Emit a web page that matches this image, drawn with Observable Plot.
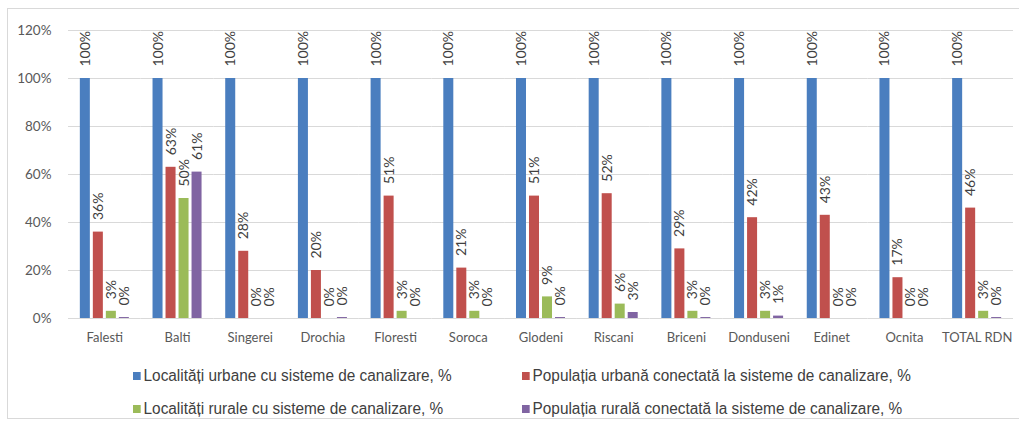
<!DOCTYPE html>
<html>
<head>
<meta charset="utf-8">
<script src="https://cdn.jsdelivr.net/npm/d3@7"></script>
<script src="https://cdn.jsdelivr.net/npm/@observablehq/plot@0.6"></script>
<style>
  html, body { margin: 0; padding: 0; background: #fff; }
  #frame { position: absolute; left: 7px; top: 8px; width: 1030px; height: 411px; border: 1px solid #d9d9d9; box-sizing: border-box; overflow: hidden; }
  #chart { position: absolute; left: 0px; top: 0px; }
  .legend { position: absolute; font-family: "Liberation Sans", Arial, sans-serif; font-size: 16px; color: #404040; white-space: nowrap; transform: scaleX(0.96); transform-origin: left center; }
  .legend .sw { display: inline-block; width: 8px; height: 8px; margin-right: 3px; vertical-align: 1px; }
</style>
</head>
<body>
<div id="frame">
  <div id="chart"></div>
  <div id="legend"></div>
</div>
<script>
const categories = ["Falesti","Balti","Singerei","Drochia","Floresti","Soroca","Glodeni","Riscani","Briceni","Donduseni","Edinet","Ocnita","TOTAL RDN"];
const seriesNames = [
  "Localități urbane cu sisteme de canalizare, %",
  "Populația urbană conectată la sisteme de canalizare, %",
  "Localități rurale cu sisteme de canalizare, %",
  "Populația rurală conectată la sisteme de canalizare, %"
];
const seriesColors = ["#4a7ebf", "#c0504d", "#9bbb59", "#8064a2"];
const urbanLocalities = [100,100,100,100,100,100,100,100,100,100,100,100,100];
const urbanPopulation = [36,63,28,20,51,21,51,52,29,42,43,17,46];
const ruralLocalities = [3,50,0,0,3,3,9,6,3,3,0,0,3];
const ruralPopulation = [0.4,61,0,0.4,0,0,0.4,2.5,0.4,1,0,0,0.4];
const yTicks = [0,20,40,60,80,100,120];

const seriesValues = [urbanLocalities, urbanPopulation, ruralLocalities, ruralPopulation];
const rows = [];
categories.forEach((c, i) => {
  seriesNames.forEach((s, j) => {
    rows.push({category: c, series: s, value: seriesValues[j][i], label: Math.round(seriesValues[j][i]) + "%"});
  });
});

const chart = Plot.plot({
  width: 1011,
  height: 350,
  marginTop: 21,
  marginBottom: 41,
  marginLeft: 60,
  marginRight: 6,
  style: { fontFamily: "Lato, 'Open Sans', sans-serif", fontSize: "13px", color: "#595959", background: "transparent", overflow: "visible" },
  fx: { domain: categories, padding: 0, round: false, axis: "bottom", label: null, tickSize: 0, tickPadding: 14 },
  x: { domain: seriesNames, paddingInner: 0.23, paddingOuter: 0.91, round: false, axis: null },
  y: { domain: [0, 120], axis: null },
  color: { domain: seriesNames, range: seriesColors },
  marks: [
    Plot.gridY(yTicks, { stroke: "#d9d9d9", strokeOpacity: 1 }),
    Plot.axisY({ ticks: yTicks, tickFormat: d => d + "%", tickSize: 0, tickPadding: 17, label: null, fontSize: 13.5, fill: "#595959" }),
    Plot.barY(rows, { fx: "category", x: "series", y: "value", fill: "series" }),
    Plot.text(rows, { fx: "category", x: "series", y: "value", text: "label", rotate: -90, textAnchor: "start", lineAnchor: "middle", dy: -12, fill: "#404040", fontSize: 14 })
  ]
});
document.getElementById("chart").appendChild(chart);

const legend = document.getElementById("legend");
const legendPos = [[125, 358], [514, 358], [125, 391], [514, 391]];
seriesNames.forEach((s, j) => {
  const d = document.createElement("div");
  d.className = "legend";
  d.style.left = legendPos[j][0] + "px";
  d.style.top = legendPos[j][1] + "px";
  d.innerHTML = `<span class="sw" style="background:${seriesColors[j]}"></span>${s}`;
  legend.appendChild(d);
});
</script>
</body>
</html>
